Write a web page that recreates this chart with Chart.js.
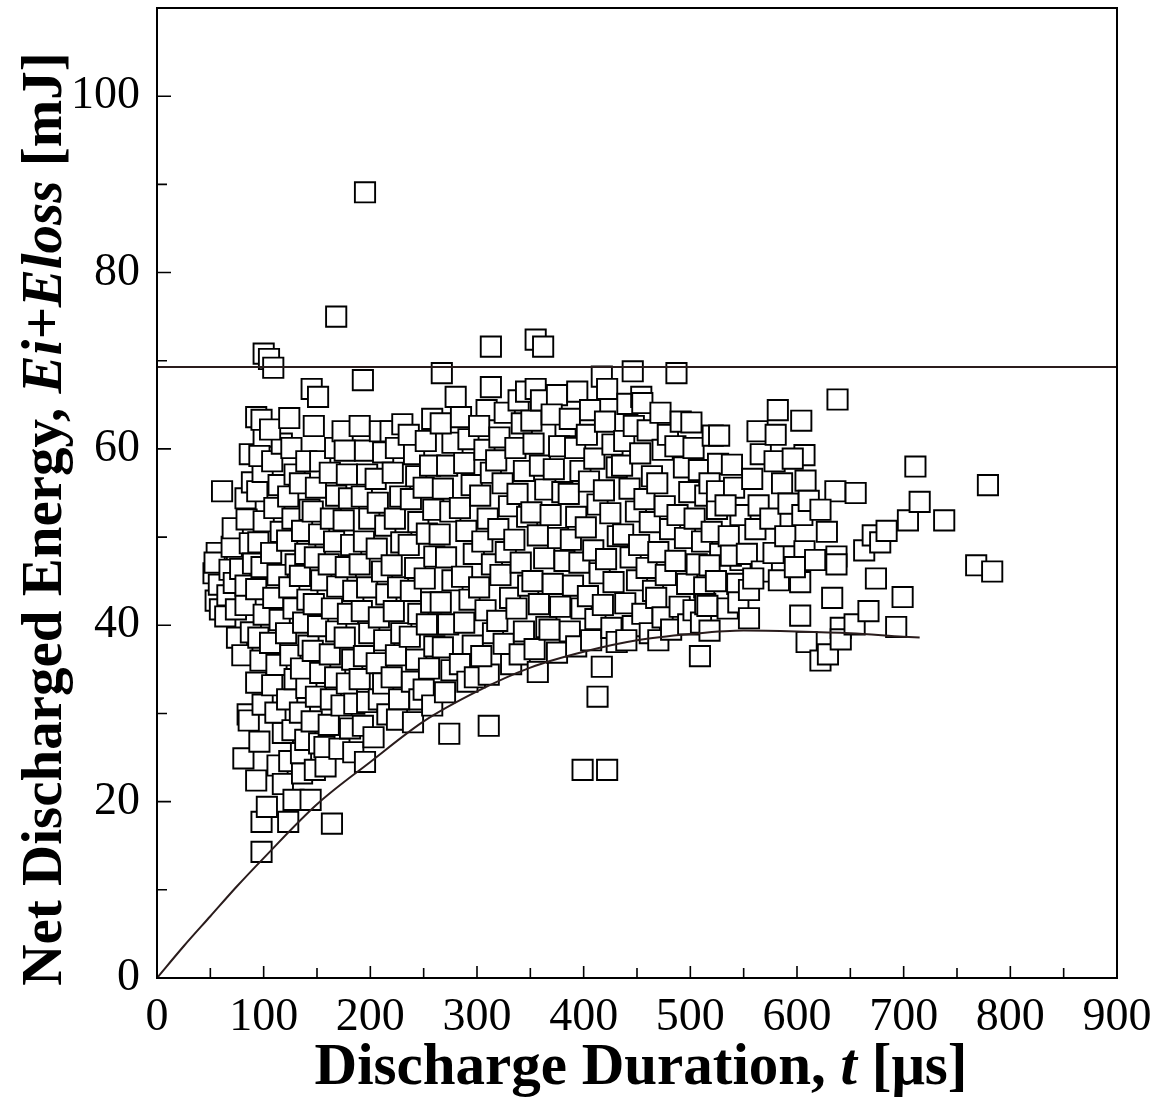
<!DOCTYPE html>
<html><head><meta charset="utf-8">
<script src="https://cdn.jsdelivr.net/npm/chart.js@4.4.0/dist/chart.umd.min.js"></script>
<style>html,body{margin:0;padding:0;background:#fff;}#wrap{width:1155px;height:1097px;}</style>
</head><body><div id="wrap"><canvas id="c" width="1155" height="1097"></canvas></div>
<script>
const xTickValues=[0,100,200,300,400,500,600,700,800,900];
const xMinorTickValues=[50,150,250,350,450,550,650,750,850];
const yTickValues=[0,20,40,60,80,100];
const yMinorTickValues=[10,30,50,70,90];
const xTitleParts=[["Discharge Duration, ","bold"],["t","italic bold"],[" [\u03bcs]","bold"]];
const yTitleParts=[["Net Discharged Energy, ","bold"],["Ei+Eloss","italic bold"],[" [mJ]","bold"]];
const thresholdEnergy=69.3;
const fitDurations=[0,25,50,75,100,150,200,250,300,350,400,450,500,550,600,650,700,715];
const fitEnergies=[0,3.6,7.0,10.4,13.6,19.7,24.5,29.1,32.5,35.2,37.0,38.3,39.0,39.4,39.3,39.1,38.7,38.6];
const samples=[
[53,45.9],[56,48.2],[55,42.8],[59,41.8],[58,44.6],[54,47.1],[61,55.2],
[66,43.4],[68,46.3],[70,48.9],[64,41.0],[72,44.8],[74,41.8],[78,46.4],[75,38.6],[71,51.0],
[80,36.6],[81,24.9],[85,29.9],[86,29.2],[93,33.5],[88,39.2],[83,42.3],[83,44.5],[87,49.3],[84,52.0],[83,54.4],[89,56.2],[87,59.4],[90,47.0],
[98,14.3],[98,17.7],[103,19.4],[93,22.4],[96,26.8],[99,31.0],[97,36.0],[95,38.6],[100,41.2],[93,44.1],[98,46.6],[95,49.4],[100,51.8],[94,55.2],[99,57.4],[100,61.4],[93,63.6],[98,63.3],[96,59.2],
[113,24.1],[118,22.0],[118,27.8],[111,30.1],[108,33.2],[112,35.5],[106,38.0],[115,40.6],[109,43.1],[113,45.7],[107,48.2],[116,50.6],[110,53.3],[114,55.9],[108,58.6],[117,60.6],[106,62.2],
[123,17.7],[128,20.2],[124,24.6],[127,28.1],[122,31.6],[129,33.9],[125,36.6],[121,39.1],[128,41.9],[124,44.3],[130,46.9],[122,49.6],[127,52.1],[123,54.6],[129,57.1],[124,63.5],[126,60.1],
[136,23.2],[135,25.5],[134,30.1],[139,27.0],[140,32.9],[135,35.1],[142,37.7],[137,40.3],[141,42.9],[134,45.6],[139,48.1],[136,50.7],[143,53.1],[134,56.1],[140,58.6],[144,20.2],
[145,66.8],[151,65.9],[147,62.6],[153,58.6],[149,55.6],[146,52.9],[152,50.3],[148,47.7],[154,45.1],[147,42.4],[151,39.9],[146,37.1],[153,34.6],[149,31.9],[145,29.1],[152,26.6],[148,23.6],[158,24.0],[157,26.2],
[161,28.7],[164,17.5],[163,31.6],[167,34.1],[162,36.7],[168,39.3],[164,41.9],[169,44.4],[161,46.9],[166,49.5],[163,52.1],[168,54.7],[162,57.3],[167,60.1],[171,26.0],[173,30.9],
[174,62.0],[176,59.8],[178,57.1],[180,54.4],[175,51.9],[182,49.1],[177,46.6],[184,43.9],[179,41.3],[176,38.6],[183,36.1],[178,33.4],[185,31.1],[181,28.3],[184,25.6],
[193,67.8],[195,24.5],[195,59.8],[190,62.6],[197,57.1],[192,54.6],[199,52.1],[194,49.5],[190,46.9],[197,44.3],[192,41.6],[199,39.1],[194,36.5],[190,33.9],[197,31.3],[193,28.6],
[203,27.3],[208,31.6],[205,56.6],[209,62.0],[212,59.6],[207,53.9],[214,51.3],[206,48.7],[211,46.1],[215,43.5],[208,40.9],[213,38.3],[206,35.7],[212,33.4],[216,29.9],
[219,62.0],[230,62.8],[224,60.1],[221,57.3],[228,54.6],[223,52.1],[229,49.4],[220,46.8],[226,44.3],[222,41.6],[229,39.1],[224,36.6],[220,34.1],[227,31.6],[225,29.3],
[240,29.0],[241,59.4],[236,61.6],[243,56.9],[238,54.3],[245,51.7],[236,49.1],[242,46.5],[238,43.9],[245,41.3],[237,38.7],[243,36.1],[239,33.6],[246,31.6],
[258,63.4],[252,60.9],[256,58.1],[250,55.6],[259,53.1],[253,50.4],[260,47.8],[251,45.3],[257,42.6],[253,40.1],[260,37.6],[255,35.1],[250,32.7],[258,30.9],
[267,68.6],[280,65.9],[277,60.7],[266,62.9],[272,58.1],[268,55.5],[275,52.9],[265,50.3],[271,47.7],[277,45.1],[266,42.6],[273,40.1],[268,37.5],[276,34.9],[270,32.4],[274,27.7],
[285,63.6],[292,61.1],[288,58.4],[295,55.9],[284,53.3],[290,50.7],[297,48.1],[286,45.5],[293,42.9],[288,40.3],[296,37.7],[284,35.6],[291,33.6],[298,34.1],
[309,64.4],[313,67.0],[313,71.6],[311,34.4],[311,28.6],[302,62.6],[307,59.9],[313,57.3],[303,54.7],[310,52.1],[305,49.5],[314,46.9],[302,44.3],[308,41.7],[315,39.1],[304,36.5],
[321,61.3],[326,64.1],[318,58.7],[324,56.1],[330,53.5],[320,50.9],[327,48.3],[322,45.7],[331,43.1],[319,40.5],[325,37.9],[332,35.6],
[339,65.5],[346,66.5],[342,62.9],[336,60.1],[344,57.5],[338,54.9],[347,52.3],[335,49.7],[341,47.1],[348,44.5],[337,41.9],[344,39.3],[340,36.7],
[351,63.2],[355,66.8],[355,72.4],[362,71.6],[360,65.5],[357,34.7],[353,60.6],[359,58.1],[364,55.4],[351,52.8],[357,50.2],[363,47.6],[352,45.0],[358,42.4],[365,39.8],[354,37.3],
[375,66.1],[383,62.6],[370,63.9],[377,60.3],[372,57.7],[380,55.1],[369,52.5],[376,49.9],[382,47.3],[371,44.7],[378,42.1],[368,39.5],[375,36.9],
[394,66.5],[387,63.4],[392,60.1],[397,57.5],[386,54.9],[393,52.3],[388,49.7],[396,47.1],[390,44.5],[398,41.9],[387,39.3],[393,37.6],[399,23.6],
[406,64.4],[417,68.2],[407,38.3],[413,31.9],[417,35.3],[403,61.6],[410,58.9],[405,56.3],[413,53.7],[402,51.1],[409,48.5],[415,45.9],[404,43.3],[411,40.7],
[422,66.8],[422,23.6],[420,63.1],[427,60.5],[431,57.9],[419,55.3],[425,52.7],[432,50.1],[421,47.5],[428,44.9],[418,42.3],[426,39.7],[431,38.1],
[438,60.9],[446,68.8],[441,65.1],[447,62.6],[436,58.1],[443,55.5],[449,52.9],[437,50.3],[444,47.7],[450,45.1],[439,42.5],[446,39.9],[440,38.3],
[454,65.9],[455,65.2],[460,62.1],[453,59.5],[464,56.9],[457,54.3],[462,51.7],[452,49.1],[459,46.5],[465,43.9],[455,41.3],[462,39.1],
[470,38.3],[474,59.9],[472,64.1],[479,61.6],[469,56.1],[476,53.5],[481,50.9],[470,48.3],[477,45.7],[468,43.1],[474,40.9],[482,39.5],
[487,68.6],[491,63.1],[486,60.3],[494,57.9],[499,55.1],[488,52.5],[495,49.9],[486,47.3],[497,44.7],[490,42.1],[498,40.1],[503,60.1],
[501,63.0],[509,36.5],[508,57.6],[514,54.7],[504,52.1],[511,49.5],[506,46.9],[513,44.3],[503,41.7],[510,40.3],[514,42.4],
[521,61.5],[527,61.5],[526,58.3],[518,56.1],[525,53.2],[520,50.6],[528,48.1],[518,46.8],[524,45.0],[516,42.2],[518,39.4],[525,55.2],
[539,58.2],[535,41.9],[547,47.4],[547,52.5],[541,55.6],[536,50.1],[544,44.7],[538,47.9],[545,42.6],[533,53.6],
[555,40.8],[555,44.0],[563,62.0],[566,59.4],[564,53.6],[558,56.6],[561,50.9],[553,48.1],[567,46.1],[559,45.3],
[580,61.6],[582,64.4],[578,48.2],[583,45.1],[575,52.1],[586,56.1],[579,58.6],[589,50.1],
[592,53.8],[604,63.2],[607,59.3],[608,56.4],[605,52.5],[611,54.1],[607,48.4],[603,44.9],[603,41.1],[609,38.1],[598,46.6],[596,58.9],
[617,47.4],[622,36.0],[629,36.7],[638,65.6],[636,55.2],[637,47.8],[637,46.9],[641,39.7],[641,38.4],[628,50.6],[633,43.1],[622,53.1],
[655,55.0],[654,40.1],[663,48.5],[667,41.6],[671,50.2],[674,45.3],[678,49.4],[684,50.7],[693,39.8],[699,43.2],
[704,51.9],[711,58.0],[715,54.0],[738,51.9],[768,46.8],[783,46.1],[779,55.9],
[100,70.8],[105,70.2],[109,69.2],[168,75.0],[195,89.1]
];

const SERIF='"Liberation Serif","Times New Roman",serif';

function drawParts(ctx,parts,size,cx,baseY){
  let total=0;
  const widths=parts.map(p=>{ctx.font=p[1]+' '+size+'px '+SERIF;const w=ctx.measureText(p[0]).width;total+=w;return w;});
  let x=cx-total/2;
  parts.forEach((p,i)=>{ctx.font=p[1]+' '+size+'px '+SERIF;ctx.fillText(p[0],x,baseY);x+=widths[i];});
}

const framePlugin={
  id:'framePlugin',
  afterDatasetsDraw(chart){
    const {ctx,chartArea:a,scales:{x,y}}=chart;
    ctx.save();
    ctx.strokeStyle='#000';
    ctx.lineWidth=2;
    ctx.strokeRect(a.left,a.top,a.right-a.left,a.bottom-a.top);
    ctx.lineWidth=1.6;
    ctx.beginPath();
    xTickValues.forEach(v=>{const p=x.getPixelForValue(v);ctx.moveTo(p,a.bottom);ctx.lineTo(p,a.bottom-12);});
    xMinorTickValues.forEach(v=>{const p=x.getPixelForValue(v);ctx.moveTo(p,a.bottom);ctx.lineTo(p,a.bottom-10);});
    yTickValues.forEach(v=>{const p=y.getPixelForValue(v);ctx.moveTo(a.left,p);ctx.lineTo(a.left+14,p);});
    yMinorTickValues.forEach(v=>{const p=y.getPixelForValue(v);ctx.moveTo(a.left,p);ctx.lineTo(a.left+10,p);});
    ctx.stroke();
    ctx.fillStyle='#000';
    ctx.textBaseline='alphabetic';
    ctx.textAlign='left';
    drawParts(ctx,xTitleParts,59,641,1084);
    ctx.translate(61,519);
    ctx.rotate(-Math.PI/2);
    drawParts(ctx,yTitleParts,57,0,0);
    ctx.restore();
  }
};

new Chart(document.getElementById('c'),{
  data:{datasets:[
    {type:'line',label:'threshold',data:[{x:0,y:thresholdEnergy},{x:900,y:thresholdEnergy}],borderColor:'#2a1c1c',borderWidth:2,pointRadius:0,order:0},
    {type:'line',label:'fit',data:fitDurations.map((t,i)=>({x:t,y:fitEnergies[i]})),borderColor:'#2a1c1c',borderWidth:2,pointRadius:0,cubicInterpolationMode:'monotone',order:0},
    {type:'scatter',label:'measured',data:samples.map(s=>({x:s[0],y:s[1]})),pointStyle:'rect',pointRadius:14.3,pointBackgroundColor:'#fff',pointBorderColor:'#000',pointBorderWidth:1.9,order:1}
  ]},
  options:{
    responsive:false,animation:false,devicePixelRatio:1,
    layout:{autoPadding:false,padding:{left:0,top:8,right:38,bottom:0}},
    plugins:{legend:{display:false},tooltip:{enabled:false}},
    scales:{
      x:{type:'linear',min:0,max:900,
        afterBuildTicks:s=>{s.ticks=xTickValues.map(v=>({value:v}));},
        afterFit:s=>{s.height=119;s.paddingLeft=0;s.paddingRight=0;},
        grid:{display:false,drawTicks:false},border:{display:false},
        ticks:{color:'#000',font:{family:SERIF,size:46},padding:12,maxRotation:0,autoSkip:false}},
      y:{type:'linear',min:0,max:110,
        afterBuildTicks:s=>{s.ticks=yTickValues.map(v=>({value:v}));},
        afterFit:s=>{s.width=157;s.paddingTop=0;s.paddingBottom=0;},
        grid:{display:false,drawTicks:false},border:{display:false},
        ticks:{color:'#000',font:{family:SERIF,size:46},padding:17,autoSkip:false}}
    }
  },
  plugins:[framePlugin]
});
</script></body></html>
